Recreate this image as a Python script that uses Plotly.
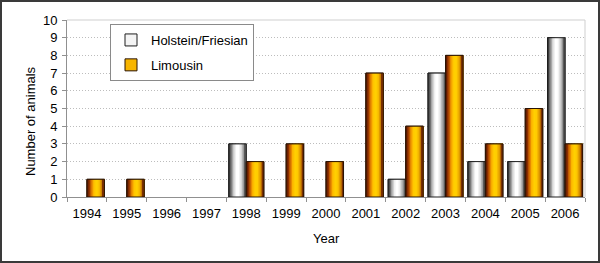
import plotly.graph_objects as go

# ---- data ----
years = ["1994", "1995", "1996", "1997", "1998", "1999", "2000",
         "2001", "2002", "2003", "2004", "2005", "2006"]
holstein = [0, 0, 0, 0, 3, 0, 0, 0, 1, 7, 2, 2, 9]
limousin = [1, 1, 0, 0, 2, 3, 2, 7, 4, 8, 3, 5, 3]
series_names = ["Holstein/Friesian", "Limousin"]
y_ticks = list(range(0, 11))

# ---- styling ----
W, H = 600, 263
L, R, T, B = 67, 15, 20, 66
PW, PH = W - L - R, H - T - B
FONT = "Liberation Sans, Arial, sans-serif"

holstein_grad = ["#3c3c3c", "#6e6e6e", "#a4a4a4", "#d2d2d2", "#efefef", "#ffffff",
                 "#ffffff", "#f2f2f2", "#dadada", "#b6b6b6", "#8c8c8c", "#5a5a5a"]
limousin_grad = ["#5c1a00", "#8c2f00", "#c05a00", "#e88a00", "#fbb400", "#ffc800",
                 "#ffd000", "#ffcc00", "#f5b800", "#e09a00", "#b86a00", "#7a3000"]
legend_colors = ["#f4f4f4", "#f7b500"]
edge_colors = ["#1e1e1e", "#2a1405"]
grads = [holstein_grad, limousin_grad]
BW = 0.44
offsets = [-BW, 0.0]


def px_x(px):
    return (px - L) / PW


def px_y(py):
    return (H - B - py) / PH


fig = go.Figure()
for si, vals in enumerate([holstein, limousin]):
    yv = [v if v > 0 else None for v in vals]
    # legend / base bar
    fig.add_trace(go.Bar(
        x=years, y=yv, name=series_names[si], offset=offsets[si], width=BW,
        marker=dict(color=legend_colors[si], line=dict(color=edge_colors[si], width=1)),
        legendgroup=series_names[si], showlegend=True, hoverinfo="skip"))
    # gradient stripes
    grad = grads[si]
    n = len(grad)
    d = BW / n
    for i, c in enumerate(grad):
        fig.add_trace(go.Bar(
            x=years, y=yv, offset=offsets[si] + i * d, width=BW - i * d,
            marker=dict(color=c, line=dict(width=0)),
            showlegend=False, hoverinfo="skip", legendgroup=series_names[si]))
    # outline
    fig.add_trace(go.Bar(
        x=years, y=yv, offset=offsets[si], width=BW,
        marker=dict(color="rgba(0,0,0,0)", line=dict(color=edge_colors[si], width=1)),
        showlegend=False, legendgroup=series_names[si],
        hovertemplate="%{x}: %{y}<extra>" + series_names[si] + "</extra>"))

fig.update_layout(
    width=W, height=H,
    margin=dict(l=L, r=R, t=T, b=B),
    paper_bgcolor="white", plot_bgcolor="white",
    barmode="overlay",
    font=dict(family=FONT, size=13, color="black"),
    showlegend=True,
    legend=dict(
        x=px_x(110), y=px_y(24), xanchor="left", yanchor="top",
        bgcolor="white", bordercolor="#8a8a8a", borderwidth=1,
        font=dict(family=FONT, size=13, color="black"),
        tracegroupgap=5, traceorder="grouped",
    ),
    xaxis=dict(
        type="category", showgrid=False, tickson="boundaries",
        ticks="outside", ticklen=4, tickcolor="#909090",
        showline=True, linecolor="#909090", linewidth=1,
        ticklabelstandoff=4, tickfont=dict(size=13),
    ),
    yaxis=dict(
        range=[0, 10], tickvals=y_ticks, ticks="outside", ticklen=4,
        tickcolor="#909090", showline=True, linecolor="#909090", linewidth=1,
        showgrid=True, gridcolor="#bdbdbd", griddash="1px,2px", gridwidth=1,
        zeroline=False, ticklabelstandoff=2, tickfont=dict(size=13),
    ),
    annotations=[
        dict(text="Year", xref="paper", yref="paper", x=px_x(326), y=px_y(238),
             xanchor="center", yanchor="middle", showarrow=False,
             font=dict(family=FONT, size=13, color="black")),
        dict(text="Number of animals", xref="paper", yref="paper", x=px_x(30), y=px_y(121),
             xanchor="center", yanchor="middle", showarrow=False, textangle=-90,
             font=dict(family=FONT, size=13, color="black")),
    ],
    shapes=[
        # plot area top/right border
        dict(type="line", xref="paper", yref="paper", x0=0, x1=1, y0=1, y1=1,
             line=dict(color="#cfcfcf", width=1)),
        dict(type="line", xref="paper", yref="paper", x0=1, x1=1, y0=0, y1=1,
             line=dict(color="#cfcfcf", width=1)),
        # outer frame
        dict(type="rect", xref="paper", yref="paper",
             x0=px_x(1), x1=px_x(599), y0=px_y(262), y1=px_y(1),
             line=dict(color="#3a3a3a", width=2)),
    ],
)

fig.write_html("out.html", config={"displayModeBar": False},
               post_script="document.body.style.margin='0';")
